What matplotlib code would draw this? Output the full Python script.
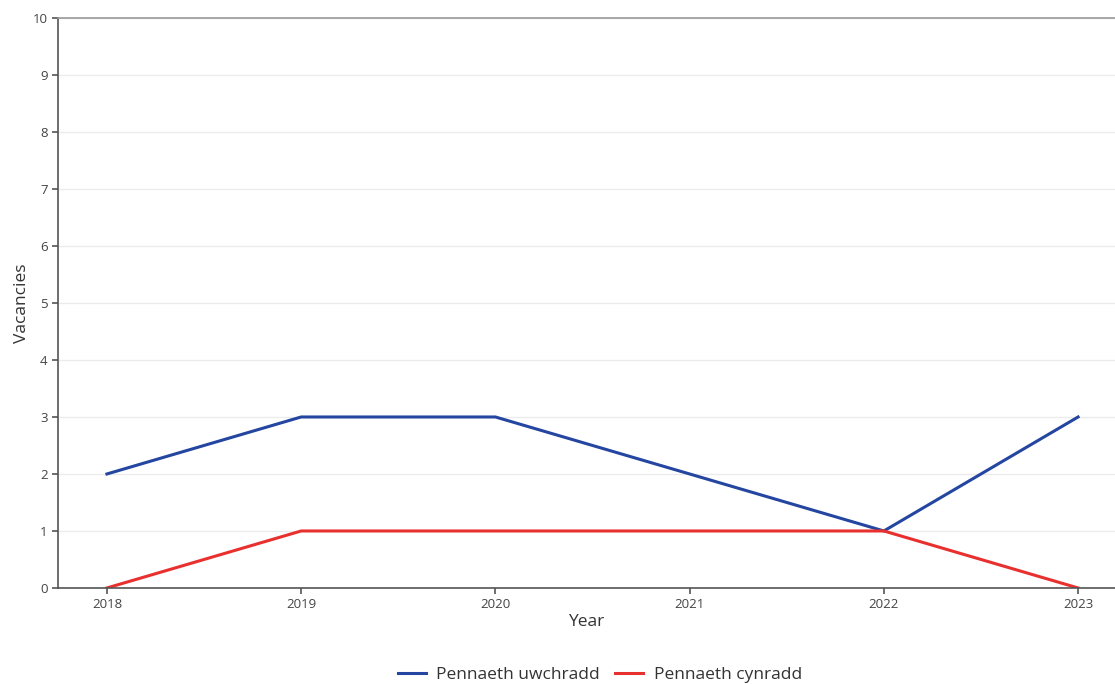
import matplotlib.pyplot as plt

years = [2018, 2019, 2020, 2021, 2022, 2023]
uwchradd = [2, 3, 3, 2, 1, 3]
cynradd = [0, 1, 1, 1, 1, 0]
series_names = ["Pennaeth uwchradd", "Pennaeth cynradd"]

plt.rcParams['font.family'] = ['Open Sans', 'DejaVu Sans']

fig = plt.figure(figsize=(11.15, 6.84), dpi=100)
ax = fig.add_axes([0.052, 0.1404, 0.948, 0.8333])

ax.plot(years, uwchradd, color="#2446a0", lw=2.2, label=series_names[0])
ax.plot(years, cynradd, color="#e8302f", lw=2.2, label=series_names[1])

ax.set_xlim(2017.748, 2023.19)
ax.set_ylim(0, 10)
ax.set_yticks(range(0, 11))
ax.set_xticks(years)
ax.grid(axis="y", color="#ebebeb", lw=1)
ax.set_axisbelow(True)

for s in ["left", "bottom"]:
    ax.spines[s].set_color("#555555")
    ax.spines[s].set_linewidth(1.2)
ax.spines["top"].set_color("#999999")
ax.spines["top"].set_linewidth(1.2)
ax.spines["right"].set_visible(False)
ax.tick_params(colors="#555555", labelsize=9.5, length=4, width=1.2, labelcolor="#444444")

ax.set_xlabel("Year", fontsize=12.5, color="#333333", labelpad=2)
ax.set_ylabel("Vacancies", fontsize=12.5, color="#333333", labelpad=2)

fig.legend(loc="center", bbox_to_anchor=(0.538, 0.013), ncol=2, frameon=False,
           fontsize=12.5, handlelength=1.6, columnspacing=0.9, handletextpad=0.6,
           labelcolor="#333333")

fig.savefig("out.png", dpi=100)
